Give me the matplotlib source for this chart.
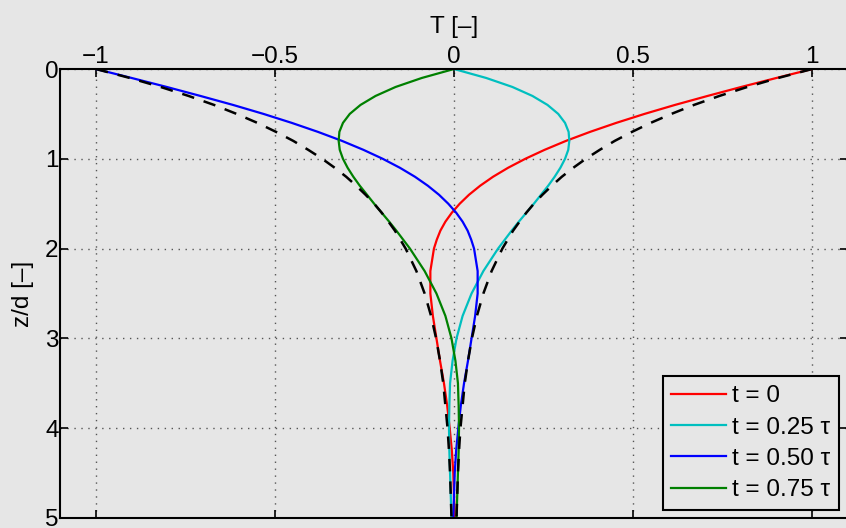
import matplotlib.pyplot as plt

# depth z/d and temperature T
z = [0.0, 0.1, 0.2, 0.3, 0.4, 0.5, 0.6, 0.7, 0.8, 0.9, 1.0,
     1.1, 1.2, 1.3, 1.4, 1.5, 1.6, 1.7, 1.8, 1.9, 2.0,
     2.25, 2.5, 2.75, 3.0, 3.25, 3.5, 3.75, 4.0, 4.25, 4.5, 4.75, 5.0]

T_t0 = [1.000, 0.900, 0.802, 0.708, 0.617, 0.532, 0.453, 0.380, 0.313, 0.253, 0.199,
        0.151, 0.109, 0.073, 0.042, 0.016, -0.006, -0.024, -0.038, -0.048, -0.056,
        -0.066, -0.066, -0.059, -0.049, -0.039, -0.028, -0.019, -0.012, -0.006, -0.002, 0.000, 0.002]
T_t25 = [0.000, 0.090, 0.163, 0.219, 0.261, 0.291, 0.310, 0.320, 0.322, 0.319, 0.310,
         0.297, 0.281, 0.263, 0.243, 0.223, 0.202, 0.181, 0.161, 0.142, 0.123,
         0.082, 0.049, 0.024, 0.007, -0.004, -0.011, -0.013, -0.014, -0.013, -0.011, -0.009, -0.007]
T_t50 = [-1.000, -0.900, -0.802, -0.708, -0.617, -0.532, -0.453, -0.380, -0.313, -0.253, -0.199,
         -0.151, -0.109, -0.073, -0.042, -0.016, 0.006, 0.024, 0.038, 0.048, 0.056,
         0.066, 0.066, 0.059, 0.049, 0.039, 0.028, 0.019, 0.012, 0.006, 0.002, 0.000, -0.002]
T_t75 = [0.000, -0.090, -0.163, -0.219, -0.261, -0.291, -0.310, -0.320, -0.322, -0.319, -0.310,
         -0.297, -0.281, -0.263, -0.243, -0.223, -0.202, -0.181, -0.161, -0.142, -0.123,
         -0.082, -0.049, -0.024, -0.007, 0.004, 0.011, 0.013, 0.014, 0.013, 0.011, 0.009, 0.007]
env_pos = [1.000, 0.905, 0.819, 0.741, 0.670, 0.607, 0.549, 0.497, 0.449, 0.407, 0.368,
           0.333, 0.301, 0.273, 0.247, 0.223, 0.202, 0.183, 0.165, 0.150, 0.135,
           0.105, 0.082, 0.064, 0.050, 0.039, 0.030, 0.024, 0.018, 0.014, 0.011, 0.009, 0.007]
env_neg = [-1.000, -0.905, -0.819, -0.741, -0.670, -0.607, -0.549, -0.497, -0.449, -0.407, -0.368,
           -0.333, -0.301, -0.273, -0.247, -0.223, -0.202, -0.183, -0.165, -0.150, -0.135,
           -0.105, -0.082, -0.064, -0.050, -0.039, -0.030, -0.024, -0.018, -0.014, -0.011, -0.009, -0.007]

labels = ['t = 0', 't = 0.25 τ', 't = 0.50 τ', 't = 0.75 τ']
colors = ['#ff0000', '#00bfbf', '#0000ff', '#008000']
xticks = [-1, -0.5, 0, 0.5, 1]
xticklabels = ['\u22121', '\u22120.5', '0', '0.5', '1']
yticks = [0, 1, 2, 3, 4, 5]

bg = '#e6e6e6'
plt.rcParams['font.family'] = ['Liberation Sans', 'DejaVu Sans']
plt.rcParams['font.size'] = 17.5

fig = plt.figure(figsize=(8.46, 5.28), dpi=100, facecolor=bg)
ax = fig.add_axes([60/846, 1 - 518/528, 788/846, 449/528])
ax.set_facecolor(bg)

for T, c, lab in zip([T_t0, T_t25, T_t50, T_t75], colors, labels):
    ax.plot(T, z, color=c, lw=1.6, label=lab)
ax.plot(env_pos, z, 'k--', lw=1.8, dashes=(5, 4))
ax.plot(env_neg, z, 'k--', lw=1.8, dashes=(5, 4))

ax.set_xlim(-1.1, 1.1)
ax.set_ylim(5, 0)
ax.set_xticks(xticks)
ax.set_xticklabels(xticklabels)
ax.set_yticks(yticks)
ax.xaxis.set_label_position('top')
ax.set_xlabel('T [\u2013]', labelpad=9)
ax.set_ylabel('z/d [\u2013]', labelpad=8)
ax.tick_params(direction='in', length=6, width=1.2, top=True, bottom=True,
               left=True, right=True, labeltop=True, labelbottom=False, pad=1)
for s in ax.spines.values():
    s.set_linewidth(1.5)
ax.grid(True, color='#555555', linestyle=(0, (1, 4)), lw=1.0)

leg = ax.legend(loc='lower right', bbox_to_anchor=(779/788, 8/449), fancybox=False,
                framealpha=1, facecolor=bg, edgecolor='black', handlelength=2.25,
                handletextpad=0.25, labelspacing=0.39, borderaxespad=0, borderpad=0.35,
                fontsize=17.5)
leg.get_frame().set_linewidth(1.5)

plt.savefig('out.png', dpi=100, facecolor=bg)
